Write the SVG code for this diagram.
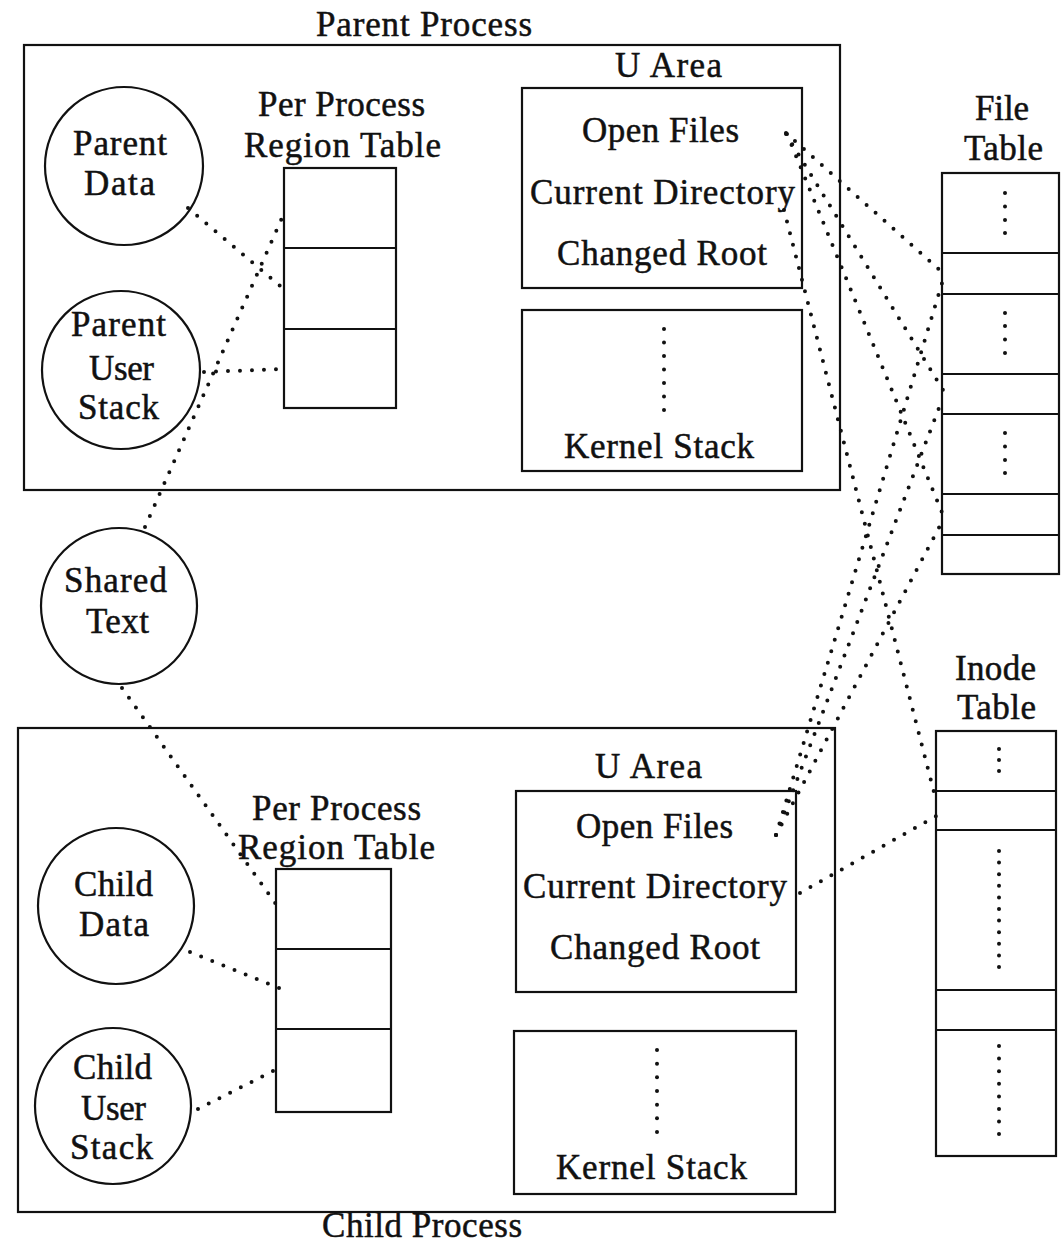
<svg xmlns="http://www.w3.org/2000/svg" width="1061" height="1244" viewBox="0 0 1061 1244">
<style>
.box{fill:none;stroke:#111;stroke-width:2.2}
.circ{fill:#fff;stroke:#111;stroke-width:2.2}
.dot{fill:none;stroke:#111;stroke-width:4;stroke-linecap:round;stroke-dasharray:0 12}
.vd{fill:#111}
text{font-family:"Liberation Serif","Times New Roman",serif;font-size:35px;fill:#111;stroke:#111;stroke-width:0.5;text-anchor:middle}
</style>
<defs>
<circle id="d" r="2" class="vd"/>
</defs>
<rect width="1061" height="1244" fill="#fff"/>

<g id="parent-process">
<rect class="box" x="24" y="45" width="816" height="445"/>
<text x="424" y="36" textLength="216" lengthAdjust="spacing">Parent Process</text>
</g>

<g id="parent-data">
<circle class="circ" cx="124" cy="166" r="79"/>
<text x="120" y="155" textLength="94" lengthAdjust="spacing">Parent</text>
<text x="119.5" y="195" textLength="71" lengthAdjust="spacing">Data</text>
</g>

<g id="parent-user-stack">
<circle class="circ" cx="121" cy="370" r="79"/>
<text x="118.5" y="336" textLength="95" lengthAdjust="spacing">Parent</text>
<text x="121.5" y="380" textLength="65" lengthAdjust="spacing">User</text>
<text x="118.5" y="419" textLength="81" lengthAdjust="spacing">Stack</text>
</g>

<g id="parent-region-table">
<text x="341.5" y="116" textLength="167" lengthAdjust="spacing">Per Process</text>
<text x="342.5" y="157" textLength="197" lengthAdjust="spacing">Region Table</text>
<rect class="box" x="284" y="168" width="112" height="240"/>
<line class="box" x1="284" y1="248" x2="396" y2="248"/>
<line class="box" x1="284" y1="329" x2="396" y2="329"/>
</g>

<g id="parent-u-area">
<text x="668.5" y="77" textLength="107" lengthAdjust="spacing">U Area</text>
<rect class="box" x="522" y="88" width="280" height="200"/>
<text x="660.5" y="142" textLength="157" lengthAdjust="spacing">Open Files</text>
<text x="662.5" y="204" textLength="265" lengthAdjust="spacing">Current Directory</text>
<text x="662" y="265" textLength="210" lengthAdjust="spacing">Changed Root</text>
</g>

<g id="parent-kernel-stack">
<rect class="box" x="522" y="310" width="280" height="161"/>
<use href="#d" x="664" y="329"/><use href="#d" x="664" y="342.5"/><use href="#d" x="664" y="356"/><use href="#d" x="664" y="369.5"/><use href="#d" x="664" y="383"/><use href="#d" x="664" y="396.5"/><use href="#d" x="664" y="410"/>
<text x="659" y="458" textLength="190" lengthAdjust="spacing">Kernel Stack</text>
</g>

<g id="file-table">
<text x="1002" y="120" textLength="54" lengthAdjust="spacing">File</text>
<text x="1003.5" y="160" textLength="79" lengthAdjust="spacing">Table</text>
<rect class="box" x="942" y="173" width="117" height="401"/>
<line class="box" x1="942" y1="253" x2="1059" y2="253"/>
<line class="box" x1="942" y1="294" x2="1059" y2="294"/>
<line class="box" x1="942" y1="374" x2="1059" y2="374"/>
<line class="box" x1="942" y1="414" x2="1059" y2="414"/>
<line class="box" x1="942" y1="494" x2="1059" y2="494"/>
<line class="box" x1="942" y1="535" x2="1059" y2="535"/>
<use href="#d" x="1005" y="193"/><use href="#d" x="1005" y="206.5"/><use href="#d" x="1005" y="220"/><use href="#d" x="1005" y="233"/>
<use href="#d" x="1005" y="313"/><use href="#d" x="1005" y="326"/><use href="#d" x="1005" y="339.5"/><use href="#d" x="1005" y="353"/>
<use href="#d" x="1005" y="433"/><use href="#d" x="1005" y="446.5"/><use href="#d" x="1005" y="460"/><use href="#d" x="1005" y="473"/>
</g>

<g id="shared-text">
<circle class="circ" cx="119" cy="606" r="78"/>
<text x="115.5" y="592" textLength="103" lengthAdjust="spacing">Shared</text>
<text x="117.5" y="633" textLength="63" lengthAdjust="spacing">Text</text>
</g>

<g id="inode-table">
<text x="995.5" y="680" textLength="81" lengthAdjust="spacing">Inode</text>
<text x="996.5" y="719" textLength="79" lengthAdjust="spacing">Table</text>
<rect class="box" x="936" y="731" width="120" height="425"/>
<line class="box" x1="936" y1="791" x2="1056" y2="791"/>
<line class="box" x1="936" y1="830" x2="1056" y2="830"/>
<line class="box" x1="936" y1="990" x2="1056" y2="990"/>
<line class="box" x1="936" y1="1030" x2="1056" y2="1030"/>
<use href="#d" x="999" y="749"/><use href="#d" x="999" y="760"/><use href="#d" x="999" y="771"/>
<use href="#d" x="999" y="851"/><use href="#d" x="999" y="862.6"/><use href="#d" x="999" y="874.2"/><use href="#d" x="999" y="885.8"/><use href="#d" x="999" y="897.4"/><use href="#d" x="999" y="909"/><use href="#d" x="999" y="920.6"/><use href="#d" x="999" y="932.2"/><use href="#d" x="999" y="943.8"/><use href="#d" x="999" y="955.4"/><use href="#d" x="999" y="967"/>
<use href="#d" x="999" y="1046"/><use href="#d" x="999" y="1058.6"/><use href="#d" x="999" y="1071.2"/><use href="#d" x="999" y="1083.8"/><use href="#d" x="999" y="1096.4"/><use href="#d" x="999" y="1109"/><use href="#d" x="999" y="1121.6"/><use href="#d" x="999" y="1134"/>
</g>

<g id="child-process">
<rect class="box" x="18" y="728" width="817" height="484"/>
<text x="422" y="1237" textLength="200" lengthAdjust="spacing">Child Process</text>
</g>

<g id="child-data">
<circle class="circ" cx="116" cy="906" r="78"/>
<text x="113.5" y="896" textLength="79" lengthAdjust="spacing">Child</text>
<text x="114" y="936" textLength="70" lengthAdjust="spacing">Data</text>
</g>

<g id="child-user-stack">
<circle class="circ" cx="113" cy="1106" r="78"/>
<text x="112.5" y="1079" textLength="79" lengthAdjust="spacing">Child</text>
<text x="113.5" y="1120" textLength="65" lengthAdjust="spacing">User</text>
<text x="111.5" y="1159" textLength="83" lengthAdjust="spacing">Stack</text>
</g>

<g id="child-region-table">
<text x="336.5" y="820" textLength="169" lengthAdjust="spacing">Per Process</text>
<text x="336.5" y="859" textLength="197" lengthAdjust="spacing">Region Table</text>
<rect class="box" x="276" y="869" width="115" height="243"/>
<line class="box" x1="276" y1="949" x2="391" y2="949"/>
<line class="box" x1="276" y1="1029" x2="391" y2="1029"/>
</g>

<g id="child-u-area">
<text x="648.5" y="778" textLength="107" lengthAdjust="spacing">U Area</text>
<rect class="box" x="516" y="791" width="280" height="201"/>
<text x="654.5" y="838" textLength="157" lengthAdjust="spacing">Open Files</text>
<text x="655" y="898" textLength="264" lengthAdjust="spacing">Current Directory</text>
<text x="655" y="959" textLength="210" lengthAdjust="spacing">Changed Root</text>
</g>

<g id="child-kernel-stack">
<rect class="box" x="514" y="1031" width="282" height="163"/>
<use href="#d" x="657" y="1050"/><use href="#d" x="657" y="1063.7"/><use href="#d" x="657" y="1077.3"/><use href="#d" x="657" y="1091"/><use href="#d" x="657" y="1104.7"/><use href="#d" x="657" y="1118.3"/><use href="#d" x="657" y="1132"/>
<text x="651.5" y="1179" textLength="191" lengthAdjust="spacing">Kernel Stack</text>
</g>

<g id="connectors">
<line class="dot" x1="188" y1="208" x2="285" y2="290"/>
<line class="dot" x1="204" y1="372" x2="285" y2="369"/>
<line class="dot" x1="145" y1="527" x2="286" y2="209"/>
<line class="dot" x1="122" y1="688" x2="278" y2="907"/>
<line class="dot" x1="190" y1="952" x2="279" y2="988"/>
<line class="dot" x1="198" y1="1109" x2="279" y2="1068"/>
<line class="dot" x1="786" y1="133" x2="943" y2="273"/>
<line class="dot" x1="786" y1="134" x2="943" y2="390"/>
<line class="dot" x1="787" y1="134" x2="943" y2="515"/>
<line class="dot" x1="784" y1="210" x2="936" y2="800"/>
<line class="dot" x1="776" y1="835" x2="942" y2="283"/>
<line class="dot" x1="776" y1="835" x2="942" y2="400"/>
<line class="dot" x1="776" y1="835" x2="942" y2="522"/>
<line class="dot" x1="800" y1="893" x2="938" y2="815"/>
</g>
</svg>
